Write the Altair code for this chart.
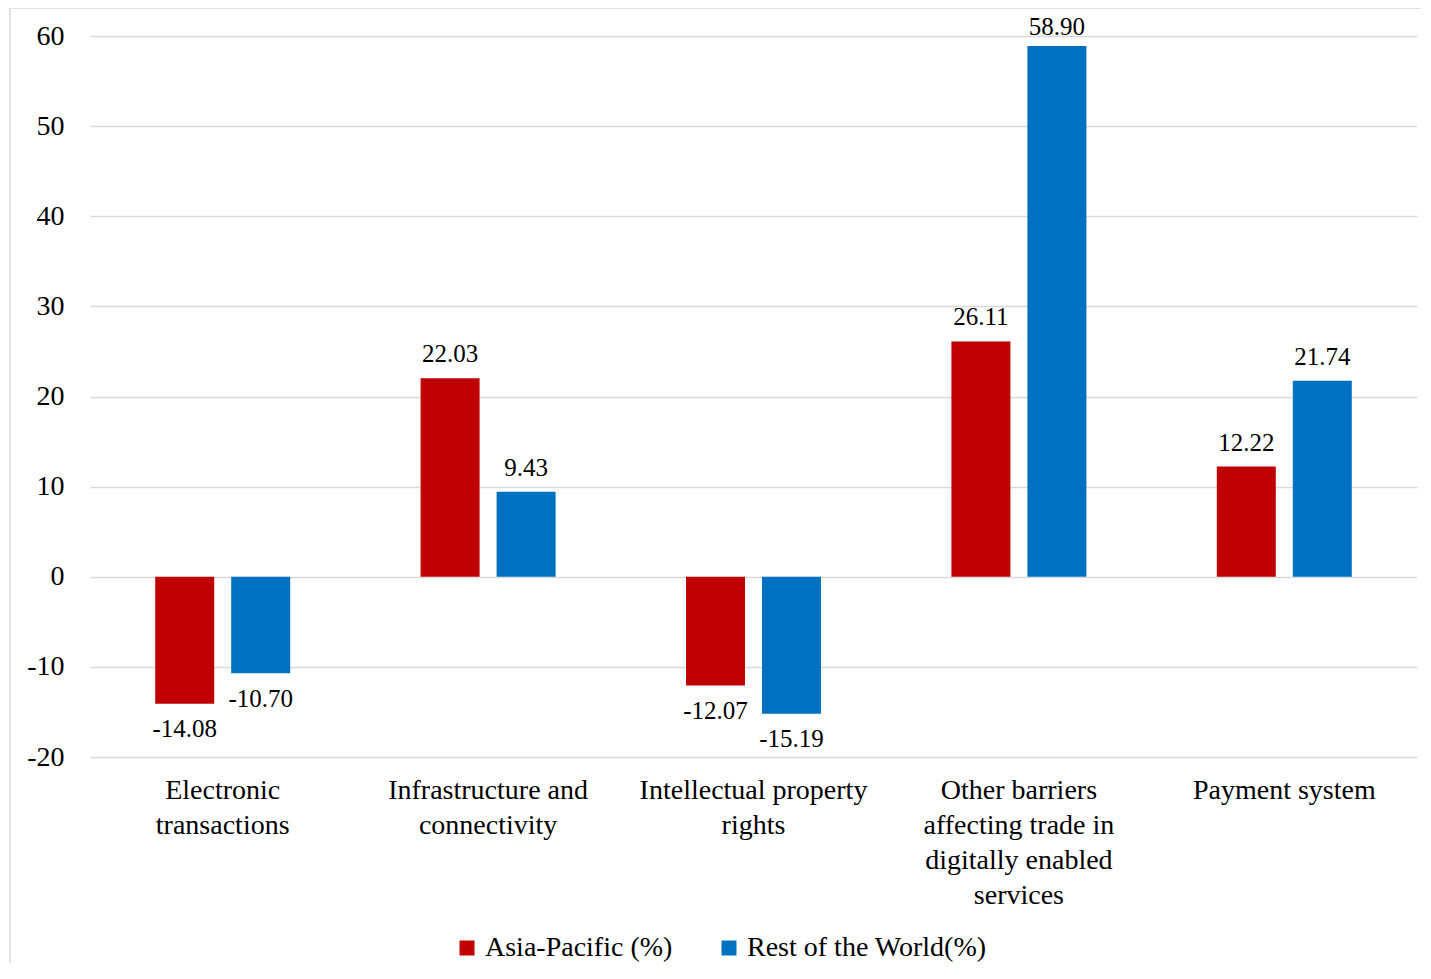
import json
import altair as alt
import pandas as pd

categories = [
    "Electronic transactions",
    "Infrastructure and connectivity",
    "Intellectual property rights",
    "Other barriers affecting trade in digitally enabled services",
    "Payment system",
]
category_labels = [
    ["Electronic", "transactions"],
    ["Infrastructure and", "connectivity"],
    ["Intellectual property", "rights"],
    ["Other barriers", "affecting trade in", "digitally enabled", "services"],
    ["Payment system"],
]
series = ["Asia-Pacific (%)", "Rest of the World(%)"]
asia_pacific = [-14.08, 22.03, -12.07, 26.11, 12.22]
rest_of_world = [-10.70, 9.43, -15.19, 58.90, 21.74]
colors = ["#C00000", "#0070C0"]
y_ticks = [-20, -10, 0, 10, 20, 30, 40, 50, 60]

rows = []
for i, c in enumerate(categories):
    rows.append({"category": c, "series": series[0], "value": asia_pacific[i]})
    rows.append({"category": c, "series": series[1], "value": rest_of_world[i]})
df = pd.DataFrame(rows)

FONT = "Liberation Serif"
W, H = 1327, 721
MINUS = "\u2212"

label_map = {c: l for c, l in zip(categories, category_labels)}
label_expr = json.dumps(label_map) + "[datum.label]"

x_axis = alt.Axis(
    title=None,
    labelAngle=0,
    labelFont=FONT,
    labelFontSize=28,
    labelColor="#000000",
    labelLineHeight=35,
    labelPadding=19,
    labelLimit=0,
    labelExpr=label_expr,
    ticks=False,
    domain=False,
    grid=False,
)
y_axis = alt.Axis(
    title=None,
    values=y_ticks,
    labelFont=FONT,
    labelFontSize=28,
    labelColor="#000000",
    labelPadding=26,
    labelExpr=f"replace(datum.label, '{MINUS}', '-')",
    ticks=False,
    domain=False,
    grid=True,
    gridColor="#d9d9d9",
    gridWidth=1.5,
)
x_scale = alt.Scale(paddingInner=0, paddingOuter=0)
y_scale = alt.Scale(domain=[-20, 60], nice=False, zero=True)
xoff = alt.XOffset(
    "series:N",
    sort=series,
    scale=alt.Scale(paddingInner=0.2237, paddingOuter=0.858),
)
color_enc = alt.Color(
    "series:N",
    sort=series,
    scale=alt.Scale(domain=series, range=colors),
    legend=alt.Legend(
        title=None,
        orient="none",
        direction="horizontal",
        legendX=363,
        legendY=898,
        symbolType="square",
        symbolSize=225,
        symbolStrokeWidth=0,
        labelFont=FONT,
        labelFontSize=28,
        labelColor="#000000",
        labelLimit=0,
        labelOffset=4,
        columnPadding=42,
    ),
)

base = alt.Chart(df).transform_calculate(
    label=f"replace(format(datum.value, '.2f'), '{MINUS}', '-')",
    label_y="datum.value >= 0 ? min(datum.value + 2.66, 61.0) : datum.value - 2.85",
)

bars = base.mark_bar().encode(
    x=alt.X("category:N", sort=categories, scale=x_scale, axis=x_axis),
    xOffset=xoff,
    y=alt.Y("value:Q", scale=y_scale, axis=y_axis),
    color=color_enc,
)

labels = base.mark_text(
    baseline="middle", font=FONT, fontSize=25, color="#000000"
).encode(
    x=alt.X("category:N", sort=categories, scale=x_scale, axis=x_axis),
    xOffset=xoff,
    y=alt.Y("label_y:Q", scale=y_scale, axis=y_axis),
    text="label:N",
)

frame = alt.Chart(pd.DataFrame({"k": [0]})).mark_rect(
    fill=None, stroke="#d9d9d9", strokeWidth=1.5, clip=False
).encode(
    x=alt.value(-80), x2=alt.value(W + 20), y=alt.value(-28), y2=alt.value(H + 240)
)

chart = (
    alt.layer(frame, bars, labels)
    .properties(
        width=W,
        height=H,
        autosize=alt.AutoSizeParams(type="none"),
        padding={"left": 82, "top": 28, "right": 4, "bottom": 206},
        background="white",
    )
    .configure_view(stroke=None, strokeWidth=0)
)

chart.save("out.html", embed_options={"renderer": "svg", "actions": False})
